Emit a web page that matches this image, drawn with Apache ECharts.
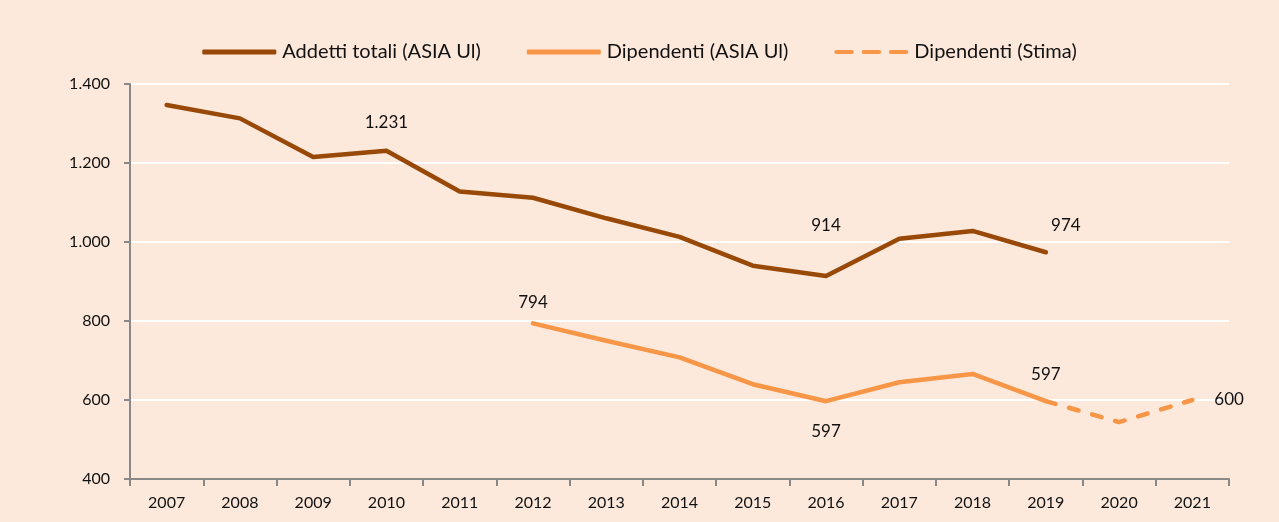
<!DOCTYPE html>
<html>
<head>
<meta charset="utf-8">
<script src="https://cdn.jsdelivr.net/npm/echarts@6/dist/echarts.min.js"></script>
<style>
  html, body { margin: 0; padding: 0; background: #FDE9DB; }
  #chart { width: 1279px; height: 522px; }
</style>
</head>
<body>
<div id="chart"></div>
<script>
// categorie (anni)
var anni = ['2007', '2008', '2009', '2010', '2011', '2012', '2013', '2014', '2015', '2016', '2017', '2018', '2019', '2020', '2021'];
// serie
var addettiTotali = [1347, 1313, 1215, 1231, 1128, 1112, 1060, 1013, 940, 914, 1008, 1028, 974, null, null];
var dipendentiAsia = [null, null, null, null, null, 794, 750, 708, 640, 597, 645, 666, 597, null, null];
var dipendentiStima = [null, null, null, null, null, null, null, null, null, null, null, null, 597, 544, 600];
var yTicks = [400, 600, 800, 1000, 1200, 1400];

var FONT = 'Lato';

function fmt(v) {
    return String(v).replace(/\B(?=(\d{3})+(?!\d))/g, '.');
}

// etichette dati: indice -> posizione
function withLabels(values, labels) {
    return values.map(function (v, i) {
        if (labels[i] == null || v == null) return v;
        return {
            value: v,
            label: {
                show: true,
                position: labels[i].pos,
                offset: labels[i].off || [0, 0],
                distance: labels[i].dist || 10,
                formatter: function (p) { return fmt(p.value); }
            }
        };
    });
}

var labAddetti = {3: {pos: 'top', dist: 20}, 9: {pos: 'top', dist: 42}, 12: {pos: 'top', off: [20, 0], dist: 18}};
var labDip = {5: {pos: 'top', dist: 12}, 9: {pos: 'bottom', dist: 22}, 12: {pos: 'top', dist: 18}};
var labStima = {14: {pos: 'right', dist: 22}};

// icona legenda tratteggiata (3 trattini)
var dashIcon = 'path://M2,0h16a2,2 0 0 1 0,4h-16a2,2 0 0 1 0,-4z M30,0h16a2,2 0 0 1 0,4h-16a2,2 0 0 1 0,-4z M58,0h16a2,2 0 0 1 0,4h-16a2,2 0 0 1 0,-4z';

var chart = echarts.init(document.getElementById('chart'));

var lineLabel = {fontFamily: FONT, fontSize: 17, color: '#111'};

var option = {
    backgroundColor: '#FDE9DB',
    textStyle: {fontFamily: FONT},
    legend: {
        top: 37,
        left: 'center',
        itemWidth: 74,
        itemHeight: 5,
        itemGap: 46,
        textStyle: {fontFamily: FONT, fontSize: 20, color: '#111', padding: [0, 0, 0, 1]},
        data: [
            {name: 'Addetti totali (ASIA Ul)', icon: 'roundRect'},
            {name: 'Dipendenti (ASIA Ul)', icon: 'roundRect'},
            {name: 'Dipendenti (Stima)', icon: dashIcon}
        ]
    },
    grid: {left: 130, right: 50, top: 84, bottom: 43},
    xAxis: {
        type: 'category',
        data: anni,
        boundaryGap: true,
        axisLine: {lineStyle: {color: '#898989', width: 2}},
        axisTick: {show: true, length: 7, lineStyle: {color: '#898989', width: 2}},
        axisLabel: {fontFamily: FONT, fontSize: 16, color: '#111', margin: 16}
    },
    yAxis: {
        type: 'value',
        min: 400,
        max: 1400,
        interval: 200,
        axisLine: {show: true, lineStyle: {color: '#898989', width: 2}},
        axisTick: {show: true, length: 6, lineStyle: {color: '#898989', width: 2}},
        splitLine: {lineStyle: {color: '#ffffff', width: 2}},
        axisLabel: {
            fontFamily: FONT, fontSize: 16, color: '#111', margin: 20,
            formatter: function (v) { return yTicks.indexOf(v) >= 0 ? fmt(v) : ''; }
        }
    },
    series: [
        {
            name: 'Addetti totali (ASIA Ul)',
            type: 'line',
            data: withLabels(addettiTotali, labAddetti),
            symbol: 'circle',
            symbolSize: 0,
            color: '#984807',
            lineStyle: {color: '#984807', width: 4.5, cap: 'round', join: 'round'},
            label: lineLabel,
            z: 3
        },
        {
            name: 'Dipendenti (ASIA Ul)',
            type: 'line',
            data: withLabels(dipendentiAsia, labDip),
            symbol: 'circle',
            symbolSize: 0,
            color: '#F79646',
            lineStyle: {color: '#F79646', width: 4.5, cap: 'round', join: 'round'},
            label: lineLabel,
            z: 3
        },
        {
            name: 'Dipendenti (Stima)',
            type: 'line',
            data: withLabels(dipendentiStima, labStima),
            symbol: 'circle',
            symbolSize: 0,
            color: '#F79646',
            lineStyle: {color: '#F79646', width: 4.5, type: [10, 14], cap: 'round', join: 'round'},
            label: lineLabel,
            z: 2
        }
    ]
};

chart.setOption(option);
</script>
</body>
</html>
